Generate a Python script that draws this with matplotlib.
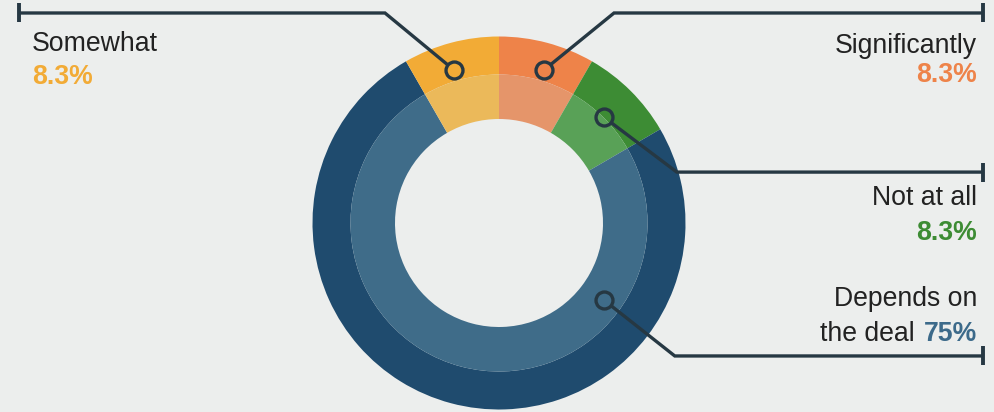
import matplotlib
matplotlib.use("Agg")
import matplotlib.pyplot as plt
import numpy as np

# ---- data ----
categories = ["Significantly", "Not at all", "Depends on the deal", "Somewhat"]
values = [8.3, 8.3, 75, 8.3]
pct_labels = ["8.3%", "8.3%", "75%", "8.3%"]
outer_colors = ["#EE8349", "#3D8C34", "#1F4B6E", "#F2AB36"]
inner_colors = ["#E5956A", "#59A157", "#3F6C89", "#EBB95A"]
pct_colors = ["#EE8349", "#3D8C34", "#3C6A8A", "#F2AB36"]

BG = "#ECEEED"
LINE = "#263843"
TXT = "#222222"

W, H = 995, 412
plt.rcParams["font.family"] = ["Liberation Sans", "DejaVu Sans"]
fig = plt.figure(figsize=(W / 100, H / 100), dpi=100, facecolor=BG)
ax = fig.add_axes([0, 0, 1, 1])
ax.set_facecolor(BG)

cx, cy = 499, H - 223
R_out, R_mid, R_in = 186.5, 148.5, 104

ax.pie(values, radius=R_out, center=(cx, cy), startangle=90, counterclock=False,
       colors=outer_colors, wedgeprops=dict(width=R_out - R_mid, linewidth=0))
ax.pie(values, radius=R_mid, center=(cx, cy), startangle=90, counterclock=False,
       colors=inner_colors, wedgeprops=dict(width=R_mid - R_in, linewidth=0))
ax.set_xlim(0, W)
ax.set_ylim(0, H)
ax.set_aspect("equal")
ax.axis("off")

# ---- leader lines (layout) ----
anchor_angle = [73.6, 45.3, -36.3, 106.4]
anchor_r = [159.5, 149, 130, 159.5]
diag = [(70, 57), (73, -55), (71, -56), (-69, 57)]
end_x = [983, 983, 983, 19]
circ_r = 8.5
lw = 2.4

for i in range(len(values)):
    a = np.deg2rad(anchor_angle[i])
    px = cx + anchor_r[i] * np.cos(a)
    py = cy + anchor_r[i] * np.sin(a)
    ex, ey = px + diag[i][0], py + diag[i][1]
    d = np.array(diag[i], float)
    d /= np.linalg.norm(d)
    sx, sy = px + d[0] * circ_r, py + d[1] * circ_r
    ax.plot([sx, ex, end_x[i]], [sy, ey, ey], color=LINE, lw=lw,
            solid_capstyle="butt", solid_joinstyle="miter", zorder=5)
    ax.plot([end_x[i], end_x[i]], [ey - 9.5, ey + 9.5], color=LINE, lw=lw + 0.4,
            solid_capstyle="butt", zorder=5)
    ax.plot([px], [py], marker="o", ms=12.2, mfc="none", mec=LINE, mew=2.4, zorder=6)

# ---- texts ----
fs = 19.2
def ty(y):
    return H - y

# Somewhat (left)
ax.text(32, ty(51), categories[3], fontsize=fs, color=TXT, ha="left", va="baseline")
ax.text(32, ty(84), pct_labels[3], fontsize=fs, color=pct_colors[3], ha="left",
        va="baseline", fontweight="bold")
# Significantly
ax.text(977, ty(53), categories[0], fontsize=fs, color=TXT, ha="right", va="baseline")
ax.text(977, ty(82), pct_labels[0], fontsize=fs, color=pct_colors[0], ha="right",
        va="baseline", fontweight="bold")
# Not at all
ax.text(977, ty(205), categories[1], fontsize=fs, color=TXT, ha="right", va="baseline")
ax.text(977, ty(240), pct_labels[1], fontsize=fs, color=pct_colors[1], ha="right",
        va="baseline", fontweight="bold")
# Depends on the deal
words = categories[2].split(" ")
ax.text(977, ty(306), " ".join(words[:2]), fontsize=fs, color=TXT, ha="right", va="baseline")
t75 = ax.text(977, ty(341), pct_labels[2], fontsize=fs, color=pct_colors[2], ha="right",
              va="baseline", fontweight="bold")
fig.canvas.draw()
bb = t75.get_window_extent(renderer=fig.canvas.get_renderer())
x0 = ax.transData.inverted().transform((bb.x0, 0))[0]
ax.text(x0 - 9, ty(341), " ".join(words[2:]), fontsize=fs, color=TXT, ha="right", va="baseline")

fig.savefig("out.png", dpi=100, facecolor=BG)
